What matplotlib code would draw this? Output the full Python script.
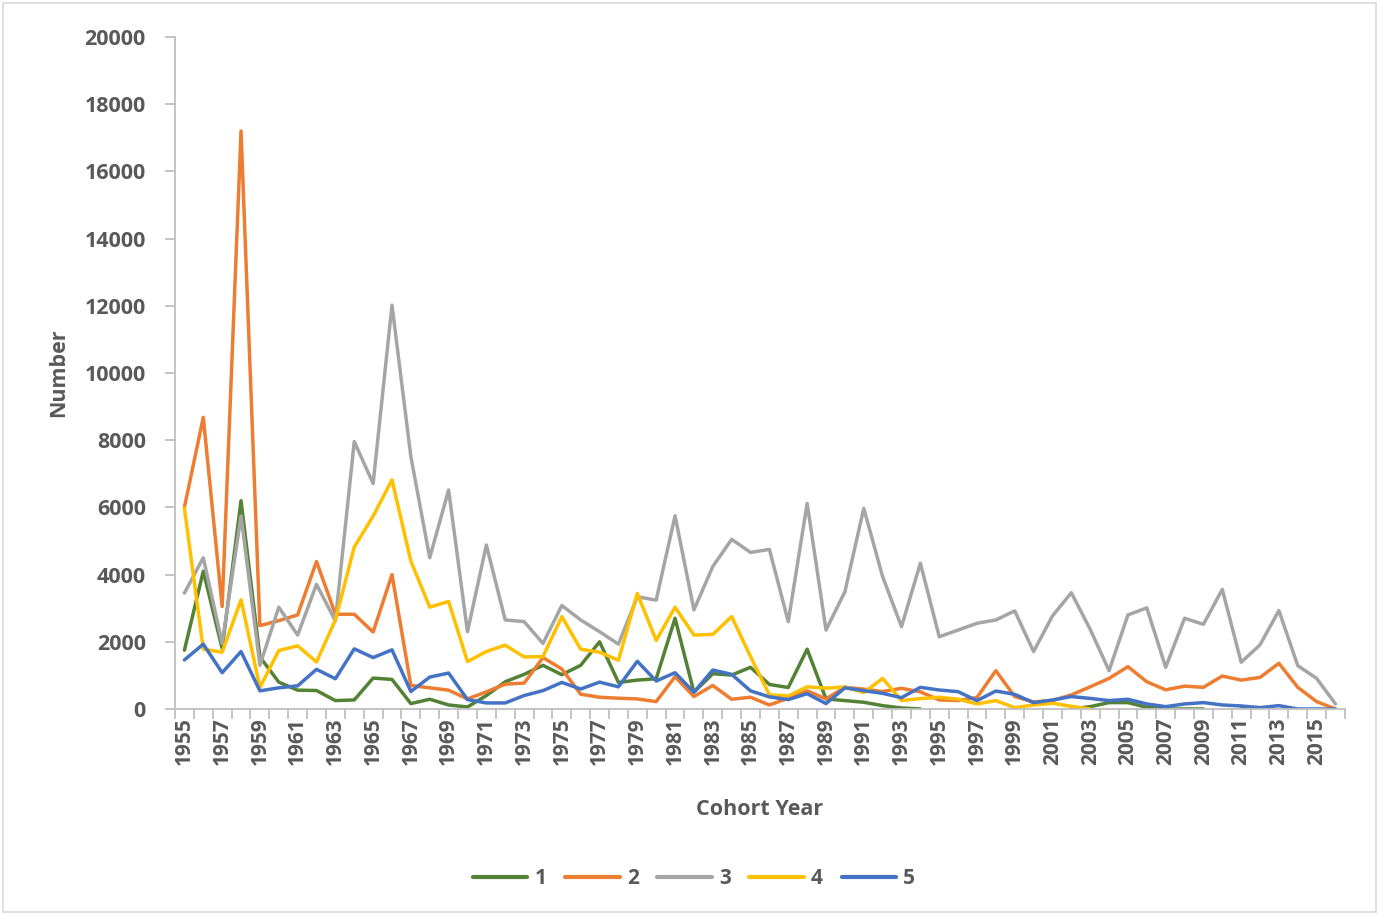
import matplotlib
matplotlib.use('Agg')
import matplotlib.pyplot as plt
import numpy as np
from matplotlib.patches import Rectangle

plt.rcParams['font.family'] = ['Open Sans', 'DejaVu Sans']

nan = np.nan
years = list(range(1955, 2017))

# series 1 (green)
s1 = [1750, 4100, 1800, 6200, 1550, 800, 560, 550, 250, 270,
      920, 880, 160, 290, 120, 60, 400, 810, 1030, 1300,
      1020, 1300, 2000, 790, 860, 900, 2700, 500, 1050, 1010,
      1240, 730, 640, 1780, 300, 250, 200, 100, 30, 0,
      nan, nan, nan, nan, nan, nan, nan, 0, 70, 190,
      190, 50, 0, 0, 0, nan, 0, 0, nan, nan,
      nan, nan]
# series 2 (orange)
s2 = [6000, 8680, 3050, 17200, 2480, 2630, 2800, 4390, 2820, 2820,
      2290, 4000, 700, 630, 560, 300, 510, 740, 770, 1530,
      1190, 440, 350, 320, 300, 220, 960, 370, 700, 290,
      350, 120, 320, 540, 300, 645, 590, 520, 615, 510,
      270, 250, 340, 1140, 370, 210, 250, 420, 660, 910,
      1260, 810, 570, 680, 645, 980, 860, 940, 1360, 645,
      220, 0]
# series 3 (gray)
s3 = [3450, 4500, 1950, 5750, 1300, 3030, 2200, 3710, 2620, 7960,
      6710, 12020, 7510, 4500, 6520, 2300, 4880, 2650, 2600, 1950,
      3080, 2650, 2300, 1930, 3340, 3240, 5750, 2950, 4240, 5050,
      4660, 4750, 2600, 6120, 2350, 3490, 5970, 3940, 2450, 4340,
      2150, 2350, 2550, 2650, 2920, 1710, 2770, 3460, 2370, 1140,
      2800, 3010, 1240, 2700, 2520, 3560, 1390, 1910, 2930, 1290,
      910, 150]
# series 4 (yellow)
s4 = [5970, 1780, 1690, 3250, 640, 1740, 1880, 1400, 2650, 4820,
      5740, 6820, 4400, 3030, 3200, 1410, 1710, 1900, 1550, 1560,
      2750, 1780, 1690, 1450, 3440, 2040, 3030, 2200, 2220, 2750,
      1560, 420, 390, 660, 620, 655, 490, 910, 250, 310,
      350, 290, 150, 250, 40, 120, 170, 80, 0, nan,
      nan, nan, nan, nan, nan, nan, nan, nan, nan, nan,
      nan, nan]
# series 5 (blue)
s5 = [1460, 1930, 1080, 1710, 540, 630, 690, 1180, 900, 1790,
      1530, 1760, 520, 950, 1070, 280, 180, 180, 400, 546,
      790, 595, 800, 660, 1420, 833, 1080, 500, 1160, 1030,
      540, 360, 280, 455, 160, 630, 545, 466, 337, 645,
      565, 516, 248, 535, 436, 188, 268, 370, 315, 250,
      290, 150, 70, 150, 190, 120, 90, 40, 100, 0,
      0, 0]

series = [('1', s1, '#548235'), ('2', s2, '#ED7D31'), ('3', s3, '#A5A5A5'),
          ('4', s4, '#FFC000'), ('5', s5, '#4472C4')]

txt = '#595959'
axc = '#BFBFBF'

fig = plt.figure(figsize=(13.8, 9.14), dpi=100)
ax = fig.add_axes([0.1268, 0.2243, 0.8478, 0.7352])

x = np.arange(len(years))
for name, vals, col in series:
    ax.plot(x, vals, color=col, lw=2.5, label=name, solid_capstyle='round')

ax.set_xlim(-0.5, len(years) - 0.5)
ax.set_ylim(0, 20000)
ax.set_yticks(range(0, 20001, 2000))
ax.set_xticks(x[::2])
ax.set_xticklabels([str(y) for y in years[::2]], rotation=90)
ax.set_xticks(np.arange(-0.5, len(years), 1), minor=True)

for s in ['top', 'right']:
    ax.spines[s].set_visible(False)
for s in ['left', 'bottom']:
    ax.spines[s].set_color(axc)
    ax.spines[s].set_linewidth(1.3)

ax.tick_params(axis='y', direction='out', length=7, width=1.3, color=axc,
               labelsize=15.5, labelcolor=txt, pad=14)
ax.tick_params(axis='x', which='major', length=0, labelsize=15, labelcolor=txt, pad=6)
ax.tick_params(axis='x', which='minor', direction='out', length=7, width=1.3, color=axc)
for lab in ax.get_xticklabels() + ax.get_yticklabels():
    lab.set_fontweight('bold')

ax.set_ylabel('Number', fontsize=15.5, fontweight='bold', color=txt, labelpad=11)
ax.set_xlabel('Cohort Year', fontsize=15.5, fontweight='bold', color=txt, labelpad=24)

leg = ax.legend(loc='center', bbox_to_anchor=(0.503, 0.039), bbox_transform=fig.transFigure,
                ncol=5, frameon=False, handlelength=2.6, columnspacing=0.9,
                handletextpad=0.35, prop={'size': 15, 'weight': 'bold'})
for t in leg.get_texts():
    t.set_color(txt)
for h in leg.get_lines():
    h.set_linewidth(3)

fig.patches.append(Rectangle((0.002, 0.002), 0.995, 0.995, transform=fig.transFigure,
                             fill=False, edgecolor='#D9D9D9', lw=1.2))

fig.savefig('out.png', dpi=100)
